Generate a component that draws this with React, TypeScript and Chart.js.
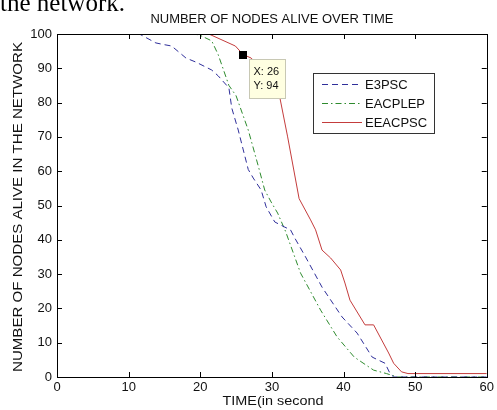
import React, { useEffect, useRef } from "react";
import { Chart, registerables } from "chart.js";

Chart.register(...registerables);

// ---- data ----
const e3pscTime = [0, 11.5, 13.8, 14.7, 16, 18, 19.4, 21.6, 22.5, 24, 24.4, 25.3, 26.7, 27.4, 28.5, 29.2, 30.4, 31.8, 32.6, 33.2, 34.7, 37, 39.8, 41.9, 44, 45.8, 46.5, 47, 60];
const e3pscNodes = [100, 100, 97.4, 97, 96.5, 93, 91.8, 89.5, 87.8, 84.3, 78.4, 72, 60.5, 58, 54.5, 49.6, 45.2, 43.7, 42.9, 40.5, 35, 26.2, 17.5, 12.8, 5.8, 4, 1, 0, 0];

const eacplepTime = [0, 18.4, 19.8, 21.6, 22.5, 24, 25, 26.7, 28.1, 29, 29.9, 30.8, 31.9, 34, 36.8, 39.1, 41.5, 44.2, 46, 47.5, 60];
const eacplepNodes = [100, 100, 99.8, 98, 94, 85, 82, 72, 61.5, 54.5, 51, 47.8, 42.5, 30.3, 19.5, 11.7, 5.8, 2, 1, 0, 0];

const eeacpscTime = [0, 21.2, 24.9, 26, 27.1, 28.5, 31.1, 32.2, 33.8, 35.4, 36.1, 37, 38.2, 39.6, 40.2, 40.9, 43, 44.2, 46.3, 47, 48.1, 49, 60];
const eeacpscNodes = [100, 100, 96.5, 94, 93, 90, 81.6, 70, 52, 45.8, 42.9, 37, 34.7, 31.2, 27.4, 22.4, 15.2, 15.2, 7, 4, 1.5, 1, 1];

const seriesNames = ["E3PSC", "EACPLEP", "EEACPSC"];
const seriesColors = ["#2f2f9a", "#2e8b2e", "#c43c3c"];
const seriesDash: number[][] = [[6, 4], [6, 3, 1.5, 3], []];

const xTickValues = [0, 10, 20, 30, 40, 50, 60];
const yTickValues = [0, 10, 20, 30, 40, 50, 60, 70, 80, 90, 100];

const dataTipX = 26;
const dataTipY = 94;

const titleText = "NUMBER OF NODES ALIVE OVER TIME";
const xLabelText = "TIME(in second";
const yLabelText = "NUMBER OF NODES ALIVE IN THE NETWORK";
const captionText = "the network.";

const FONT = "'Liberation Sans', Arial, sans-serif";

function fitText(ctx: CanvasRenderingContext2D, text: string, cx: number, cy: number, font: string, width: number, rot = 0) {
  ctx.save();
  ctx.font = font;
  const w = ctx.measureText(text).width;
  ctx.translate(cx, cy);
  ctx.rotate(rot);
  ctx.scale(width / w, 1);
  ctx.textAlign = "center";
  ctx.textBaseline = "alphabetic";
  ctx.fillText(text, 0, 0);
  ctx.restore();
}

const decorPlugin = {
  id: "decor",
  afterDatasetsDraw(chart: any) {
    const ctx: CanvasRenderingContext2D = chart.ctx;
    const { left, right, top, bottom } = chart.chartArea;
    const xs = chart.scales.x;
    const ys = chart.scales.y;
    ctx.save();
    // frame
    ctx.strokeStyle = "#000";
    ctx.lineWidth = 1;
    ctx.setLineDash([]);
    ctx.strokeRect(Math.round(left) + 0.5, Math.round(top) + 0.5, Math.round(right - left), Math.round(bottom - top));
    // inward ticks
    const tl = 5;
    ctx.beginPath();
    xTickValues.forEach((v) => {
      const px = Math.round(xs.getPixelForValue(v)) + 0.5;
      ctx.moveTo(px, bottom);
      ctx.lineTo(px, bottom - tl);
      ctx.moveTo(px, top);
      ctx.lineTo(px, top + tl);
    });
    yTickValues.forEach((v) => {
      const py = Math.round(ys.getPixelForValue(v)) + 0.5;
      ctx.moveTo(left, py);
      ctx.lineTo(left + tl, py);
      ctx.moveTo(right, py);
      ctx.lineTo(right - tl, py);
    });
    ctx.stroke();

    // legend
    const lx = 313.5, ly = 73.5, lw = 121, lh = 60;
    ctx.fillStyle = "#fff";
    ctx.fillRect(lx, ly, lw, lh);
    ctx.strokeStyle = "#333";
    ctx.strokeRect(lx, ly, lw, lh);
    const rows = [84, 103, 122];
    seriesNames.forEach((name, i) => {
      ctx.strokeStyle = seriesColors[i];
      ctx.setLineDash(seriesDash[i]);
      ctx.beginPath();
      ctx.moveTo(322, rows[i] + 0.5);
      ctx.lineTo(362, rows[i] + 0.5);
      ctx.stroke();
      ctx.setLineDash([]);
      ctx.fillStyle = "#111";
      ctx.font = `13px ${FONT}`;
      ctx.textAlign = "left";
      ctx.textBaseline = "middle";
      ctx.fillText(name, 365, rows[i] + 1);
    });

    // data tip
    const mx = xs.getPixelForValue(dataTipX);
    const my = ys.getPixelForValue(dataTipY);
    ctx.fillStyle = "#000";
    ctx.fillRect(Math.round(mx - 4), Math.round(my - 4), 8, 8);
    const bx = Math.round(mx + 6) + 0.5, by = Math.round(my + 4) + 0.5;
    ctx.fillStyle = "#ffffe1";
    ctx.fillRect(bx, by, 36, 39);
    ctx.strokeStyle = "#c8c8b4";
    ctx.strokeRect(bx, by, 36, 39);
    ctx.fillStyle = "#111";
    ctx.font = `11px ${FONT}`;
    ctx.textAlign = "left";
    ctx.textBaseline = "middle";
    ctx.fillText(`X: ${dataTipX}`, bx + 4, by + 12);
    ctx.fillText(`Y: ${dataTipY}`, bx + 4, by + 26);

    // texts
    ctx.fillStyle = "#111";
    fitText(ctx, titleText, (left + right) / 2, 23, `13px ${FONT}`, 243);
    fitText(ctx, xLabelText, 273, 405, `13px ${FONT}`, 101);
    fitText(ctx, yLabelText, 22, 207, `12px ${FONT}`, 330, -Math.PI / 2);
    ctx.fillStyle = "#000";
    ctx.font = `25px 'Liberation Serif', 'Times New Roman', serif`;
    ctx.textAlign = "left";
    ctx.textBaseline = "alphabetic";
    ctx.fillText(captionText, 0, 11);
    ctx.restore();
  },
};

export default function App() {
  const ref = useRef<HTMLCanvasElement | null>(null);
  useEffect(() => {
    if (!ref.current) return;
    const mk = (t: number[], n: number[]) => t.map((x, i) => ({ x, y: n[i] }));
    const sets = [mk(e3pscTime, e3pscNodes), mk(eacplepTime, eacplepNodes), mk(eeacpscTime, eeacpscNodes)];
    const chart = new Chart(ref.current, {
      type: "line",
      data: {
        datasets: sets.map((d, i) => ({
          label: seriesNames[i],
          data: d,
          borderColor: seriesColors[i],
          borderWidth: 1,
          borderDash: seriesDash[i],
          pointRadius: 0,
          fill: false,
          tension: 0,
        })),
      },
      options: {
        animation: false,
        responsive: false,
        maintainAspectRatio: false,
        layout: { padding: { left: 0, right: 6, top: 34, bottom: 0 } },
        plugins: { legend: { display: false }, tooltip: { enabled: false }, title: { display: false } },
        scales: {
          x: {
            type: "linear",
            min: 0,
            max: 60,
            afterFit: (s: any) => { s.height = 33; },
            afterBuildTicks: (s: any) => { s.ticks = xTickValues.map((v) => ({ value: v })); },
            grid: { display: false, drawTicks: false },
            border: { display: false },
            ticks: { color: "#111", font: { family: FONT, size: 13 }, padding: 3, maxRotation: 0 },
          },
          y: {
            type: "linear",
            min: 0,
            max: 100,
            afterFit: (s: any) => { s.width = 57; },
            afterBuildTicks: (s: any) => { s.ticks = yTickValues.map((v) => ({ value: v })); },
            grid: { display: false, drawTicks: false },
            border: { display: false },
            ticks: { color: "#111", font: { family: FONT, size: 13 }, padding: 5 },
          },
        },
      },
      plugins: [decorPlugin],
    });
    return () => chart.destroy();
  }, []);
  return (
    <div style={{ position: "fixed", left: 0, top: 0, width: 497, height: 410, background: "#fff" }}>
      <canvas ref={ref} width={497} height={410} style={{ width: 497, height: 410, display: "block" }} />
    </div>
  );
}
